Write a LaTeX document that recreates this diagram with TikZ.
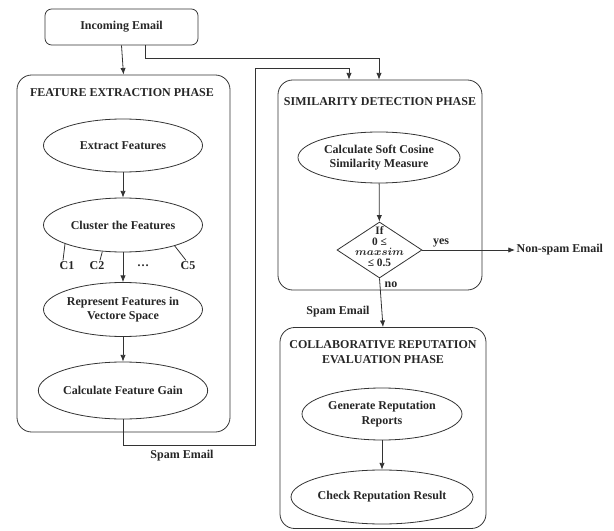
\documentclass[tikz,border=0pt]{standalone}
\usepackage{fontspec}
\setmainfont{Liberation Serif}
\usetikzlibrary{arrows.meta,shapes.geometric,calc}
\begin{document}
\begin{tikzpicture}[x=0.75pt,y=-0.75pt,
  every node/.style={font=\fontsize{9}{11}\selectfont\bfseries, text=black!85},
  ln/.style={draw=black!80, line width=0.6pt},
  arr/.style={ln, -{Latex[length=5pt,width=4pt]}},
  phase/.style={ln, rectangle, rounded corners=11pt, inner sep=0pt},
  oval/.style={ln, ellipse, inner sep=0pt, align=center},
  lbl/.style={inner sep=1pt, align=center}]
\useasboundingbox (0,0) rectangle (614,531);
% boxes
\node[phase, rounded corners=5pt, minimum width=153*0.75pt, minimum height=36*0.75pt] (inc) at (121.5,27) {Incoming Email};
\node[phase, minimum width=213*0.75pt, minimum height=357*0.75pt] (feat) at (123.5,253.5) {};
\node[lbl] (ftitle) at (122,93) {FEATURE EXTRACTION PHASE};
\node[phase, minimum width=204*0.75pt, minimum height=210*0.75pt] (sim) at (380,185) {};
\node[lbl] (stitle) at (380,102) {SIMILARITY DETECTION PHASE};
\node[phase, minimum width=206*0.75pt, minimum height=201*0.75pt] (col) at (383,428) {};
\node[lbl] (ctitle) at (383,352) {COLLABORATIVE REPUTATION\\EVALUATION PHASE};
% feature extraction
\node[oval, minimum width=159*0.75pt, minimum height=53*0.75pt] (ext) at (123,145.5) {Extract Features};
\node[oval, minimum width=159*0.75pt, minimum height=54*0.75pt] (clu) at (123,225) {Cluster the Features};
\node[oval, minimum width=159*0.75pt, minimum height=54*0.75pt] (rep) at (123,309.5) {Represent Features in\\Vectore Space};
\node[oval, minimum width=159*0.75pt, minimum height=57*0.75pt] (gain) at (123,390.5) {Calculate Feature Gain};
\node[lbl] (c1) at (67,266) {C1};
\node[lbl] (c2) at (97,266) {C2};
\node[lbl] (cd) at (143,266) {\dots};
\node[lbl] (c5) at (188,266) {C5};
\draw[ln] (clu.198) -- ($(c1.north)+(-4,0)$);
\draw[ln] (clu.232) -- ($(c2.north)+(3,0)$);
\draw[ln] (clu.338) -- ($(c5.north)+(-2,0)$);
\draw[arr] (ext) -- (clu);
\draw[arr] (clu) -- (rep);
\draw[arr] (rep) -- (gain);
% similarity
\node[oval, minimum width=162*0.75pt, minimum height=51*0.75pt] (cos) at (379,157.5) {Calculate Soft Cosine\\Similarity Measure};
\node[ln, diamond, inner sep=0pt, minimum width=85*0.75pt, minimum height=56*0.75pt] (dia) at (379.5,250) {};
\node[lbl, inner sep=0pt, font=\fontsize{8.5}{8}\selectfont\bfseries\boldmath] (diat) at (379.5,246.5) {If\\0 ≤\\$maxsim$\\≤ 0.5};
\draw[arr] (cos) -- (dia);
\node[lbl, anchor=west] (ns) at (515,250) {Non-spam Email};
\draw[arr] (dia.east) -- (ns.west);
\node[lbl] (yes) at (441,243) {yes};
\draw[arr] (dia.south) -- (col.north);
\node[lbl] (no) at (391,285) {no};
\node[lbl] (sp2) at (338,312) {Spam Email};
% collaborative
\node[oval, minimum width=160*0.75pt, minimum height=52*0.75pt] (gen) at (382,414) {Generate Reputation\\Reports};
\node[oval, minimum width=160*0.75pt, minimum height=54*0.75pt] (chk) at (382,497) {Check Reputation Result};
\draw[arr] (gen) -- (chk);
% incoming connectors
\draw[arr] (inc.south) -- (feat.north);
\coordinate (j1) at (379,58);
\draw[arr] ($(inc.south)+(23.5,0)$) |- (j1) -- (j1 |- sim.north);
\coordinate (s1) at (255,445);
\coordinate (s2) at (349,68);
\draw[arr] (gain.south) |- (s1) |- (s2) -- (s2 |- sim.north);
\node[lbl] (sp1) at (182,456) {Spam Email};
\end{tikzpicture}
\end{document}
